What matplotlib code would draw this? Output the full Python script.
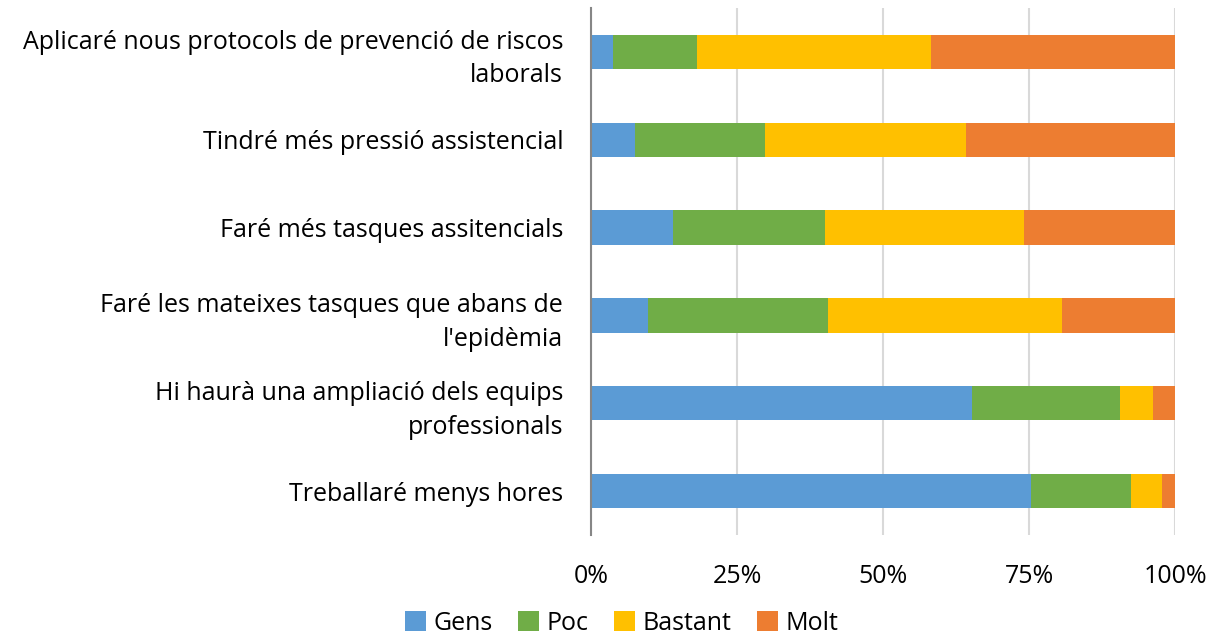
import numpy as np
import matplotlib
matplotlib.use("Agg")
import matplotlib.pyplot as plt

# Data (percentages)
categories = [
    "Aplicaré nous protocols de prevenció de riscos\nlaborals",
    "Tindré més pressió assistencial",
    "Faré més tasques assitencials",
    "Faré les mateixes tasques que abans de\nl'epidèmia",
    "Hi haurà una ampliació dels equips\nprofessionals",
    "Treballaré menys hores",
]
gens = [3.8, 7.6, 14.1, 9.8, 65.2, 75.4]
poc = [14.3, 22.2, 26.0, 30.7, 25.3, 17.0]
bastant = [40.2, 34.4, 34.0, 40.2, 5.8, 5.4]
molt = [41.7, 35.8, 25.9, 19.3, 3.7, 2.2]

series_names = ["Gens", "Poc", "Bastant", "Molt"]
colors = ["#5B9BD5", "#70AD47", "#FFC000", "#ED7D31"]

plt.rcParams["font.family"] = ["Open Sans", "DejaVu Sans"]

fig = plt.figure(figsize=(12.19, 6.44), dpi=100)
ax = fig.add_axes([591 / 1219, 1 - 535 / 644, 584 / 1219, 527 / 644])

y = np.arange(len(categories))
left = np.zeros(len(categories))
for name, vals, c in zip(series_names, [gens, poc, bastant, molt], colors):
    ax.barh(y, vals, left=left, height=0.39, color=c, label=name, zorder=3)
    left += np.array(vals)

ax.set_ylim(len(categories) - 0.5, -0.5)
ax.set_xlim(0, 100)
ax.set_yticks(y)
ax.set_yticklabels(categories, fontsize=18, ha="right", linespacing=1.45)
ax.set_xticks([0, 25, 50, 75, 100])
ax.set_xticklabels(["0%", "25%", "50%", "75%", "100%"], fontsize=18)
ax.tick_params(axis="both", length=0)
ax.tick_params(axis="x", pad=21)
ax.tick_params(axis="y", pad=20)

ax.grid(axis="x", color="#d9d9d9", linewidth=1.5, zorder=0)
for s in ["top", "right", "bottom"]:
    ax.spines[s].set_visible(False)
ax.spines["left"].set_color("#868686")
ax.spines["left"].set_linewidth(1.5)
ax.spines["left"].set_zorder(4)

fig.legend(loc="lower center", bbox_to_anchor=(0.51, -0.022), ncol=4, frameon=False,
           fontsize=18, handlelength=0.85, handleheight=0.85, handletextpad=0.3,
           columnspacing=1.0)

fig.savefig("out.png", dpi=100)
